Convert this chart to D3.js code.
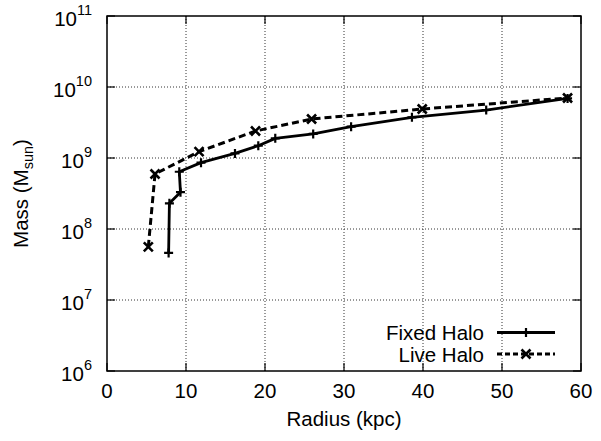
<!DOCTYPE html>
<html><head><meta charset="utf-8">
<script src="https://cdn.jsdelivr.net/npm/d3@7"></script>
<style>body{margin:0;background:#fff}text{font-family:"Liberation Sans",Arial,sans-serif;fill:#000}</style>
</head><body><svg id="c" width="601" height="441"></svg>
<script>
const fixedR = [7.8, 7.9, 9.3, 9.15, 11.9, 16.2, 19.15, 21.3, 26.1, 30.9, 38.6, 48.0, 58.3];
const fixedM = [4.6e7, 2.3e8, 3.3e8, 6.4e8, 8.6e8, 1.16e9, 1.49e9, 1.89e9, 2.18e9, 2.76e9, 3.74e9, 4.74e9, 6.9e9];
const liveR = [5.23, 6.08, 11.65, 18.8, 25.9, 39.9, 58.3];
const liveM = [5.6e7, 5.96e8, 1.23e9, 2.4e9, 3.54e9, 4.9e9, 7.0e9];
const xTicks = [0, 10, 20, 30, 40, 50, 60];
const yExps = [6, 7, 8, 9, 10, 11];
const seriesNames = ["Fixed Halo", "Live Halo"];

const svg = d3.select("#c");
const L = 107, R = 581, T = 16, B = 371;
const x = d3.scaleLinear().domain([0, 60]).range([L, R]);
const y = d3.scaleLog().domain([1e6, 1e11]).range([B, T]);
const FS = 20.5, SS = 14.5;

// grid
const g = svg.append("g");
g.selectAll(".gx").data(xTicks.slice(1, -1)).enter().append("line")
  .attr("x1", d => x(d)).attr("x2", d => x(d)).attr("y1", T).attr("y2", B)
  .attr("stroke", "#333").attr("stroke-width", 1).attr("stroke-dasharray", "1,2");
g.selectAll(".gy").data(yExps.slice(1, -1)).enter().append("line")
  .attr("y1", d => y(Math.pow(10, d))).attr("y2", d => y(Math.pow(10, d))).attr("x1", L).attr("x2", R)
  .attr("stroke", "#333").attr("stroke-width", 1).attr("stroke-dasharray", "1,2");

// ticks (inward, mirrored)
const tl = 8;
xTicks.forEach(d => {
  g.append("line").attr("x1", x(d)).attr("x2", x(d)).attr("y1", B).attr("y2", B - tl).attr("stroke", "#000").attr("stroke-width", 1.2);
  g.append("line").attr("x1", x(d)).attr("x2", x(d)).attr("y1", T).attr("y2", T + tl).attr("stroke", "#000").attr("stroke-width", 1.2);
  svg.append("text").attr("x", x(d)).attr("y", 398).attr("text-anchor", "middle").attr("font-size", FS).text(d);
});
yExps.forEach(e => {
  const yy = y(Math.pow(10, e));
  g.append("line").attr("x1", L).attr("x2", L + tl).attr("y1", yy).attr("y2", yy).attr("stroke", "#000").attr("stroke-width", 1.2);
  g.append("line").attr("x1", R).attr("x2", R - tl).attr("y1", yy).attr("y2", yy).attr("stroke", "#000").attr("stroke-width", 1.2);
  const t = svg.append("text").attr("x", 92).attr("y", yy + 10).attr("text-anchor", "end").attr("font-size", FS);
  t.append("tspan").text("10");
  t.append("tspan").attr("font-size", SS).attr("dy", -11).text(e);
});

// frame
svg.append("rect").attr("x", L).attr("y", T).attr("width", R - L).attr("height", B - T)
  .attr("fill", "none").attr("stroke", "#000").attr("stroke-width", 1.5);

// axis titles
svg.append("text").attr("x", (L + R) / 2).attr("y", 426).attr("text-anchor", "middle").attr("font-size", FS).text("Radius (kpc)");
const yt = svg.append("text").attr("transform", "translate(28," + ((T + B) / 2) + ") rotate(-90)")
  .attr("text-anchor", "middle").attr("font-size", FS);
yt.append("tspan").text("Mass (M");
yt.append("tspan").attr("font-size", SS).attr("dy", 5).text("sun");
yt.append("tspan").attr("dy", -5).text(")");

// series
const line = d3.line().x(d => x(d[0])).y(d => y(d[1]));
const fixed = fixedR.map((r, i) => [r, fixedM[i]]);
const live = liveR.map((r, i) => [r, liveM[i]]);

function plus(sel, cx, cy, s) {
  sel.append("path").attr("d", `M${cx - s},${cy}H${cx + s}M${cx},${cy - s}V${cy + s}`)
    .attr("stroke", "#000").attr("stroke-width", 2.2).attr("fill", "none");
}
function cross(sel, cx, cy, s) {
  sel.append("path").attr("d", `M${cx - s},${cy - s}L${cx + s},${cy + s}M${cx - s},${cy + s}L${cx + s},${cy - s}`)
    .attr("stroke", "#000").attr("stroke-width", 2.6).attr("fill", "none");
}

svg.append("path").datum(live).attr("d", line).attr("fill", "none").attr("stroke", "#000")
  .attr("stroke-width", 3).attr("stroke-dasharray", "7,4");
svg.append("path").datum(fixed).attr("d", line).attr("fill", "none").attr("stroke", "#000")
  .attr("stroke-width", 2.8).attr("stroke-linejoin", "round");
live.forEach(d => cross(svg, x(d[0]), y(d[1]), 4.5));
fixed.forEach(d => plus(svg, x(d[0]), y(d[1]), 4.5));

// legend
const lgY = [332.5, 354];
svg.append("text").attr("x", 484).attr("y", lgY[0] + 7.5).attr("text-anchor", "end").attr("font-size", FS).text(seriesNames[0]);
svg.append("text").attr("x", 484).attr("y", lgY[1] + 7.5).attr("text-anchor", "end").attr("font-size", FS).text(seriesNames[1]);
svg.append("line").attr("x1", 497).attr("x2", 555).attr("y1", lgY[0]).attr("y2", lgY[0]).attr("stroke", "#000").attr("stroke-width", 2.8);
plus(svg, 526, lgY[0], 4.5);
svg.append("line").attr("x1", 497).attr("x2", 555).attr("y1", lgY[1]).attr("y2", lgY[1]).attr("stroke", "#000").attr("stroke-width", 3).attr("stroke-dasharray", "5,3");
cross(svg, 526, lgY[1], 4.5);
</script></body></html>
